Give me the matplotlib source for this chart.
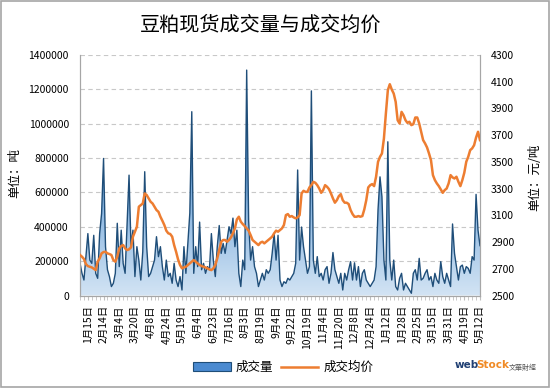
import numpy as np
import matplotlib
matplotlib.use('Agg')
import matplotlib.pyplot as plt
from matplotlib.patches import Polygon, Patch, Rectangle
from matplotlib.lines import Line2D
from matplotlib.colors import LinearSegmentedColormap
from matplotlib.ticker import FuncFormatter

plt.rcParams['font.family'] = ['Noto Sans CJK SC', 'DejaVu Sans']

# 日期标签（每8个交易日一个）
date_labels = ['1月15日', '2月14日', '3月4日', '3月20日', '4月8日', '4月24日',
               '5月19日', '6月4日', '6月23日', '7月16日', '8月3日', '8月19日',
               '9月4日', '9月22日', '10月19日', '11月4日', '11月20日', '12月8日',
               '12月24日', '1月12日', '1月28日', '2月25日', '3月15日', '3月31日',
               '4月19日', '5月12日']

# 成交量（吨）
volume = [
    187000, 129000, 90000, 226000, 360000, 206000, 187000, 350000, 129000, 100000,
    360000, 477000, 797000, 284000, 150000, 110000, 52000, 71000, 129000, 420000,
    168000, 380000, 187000, 129000, 420000, 700000, 284000, 380000, 110000, 284000,
    206000, 90000, 255000, 720000, 284000, 110000, 129000, 168000, 206000, 342000,
    226000, 284000, 168000, 90000, 206000, 110000, 129000, 71000, 187000, 90000,
    52000, 110000, 32000, 284000, 129000, 300000, 480000, 1069000, 129000, 284000,
    168000, 427000, 150000, 187000, 129000, 168000, 150000, 360000, 206000, 110000,
    284000, 407000, 245000, 303000, 245000, 323000, 400000, 360000, 450000, 284000,
    380000, 129000, 52000, 206000, 150000, 1311000, 437000, 206000, 284000, 168000,
    129000, 52000, 90000, 129000, 90000, 150000, 129000, 150000, 245000, 360000,
    206000, 350000, 90000, 52000, 80000, 71000, 100000, 90000, 110000, 129000,
    187000, 730000, 206000, 398000, 284000, 206000, 129000, 168000, 1190000, 206000,
    129000, 226000, 110000, 129000, 90000, 150000, 168000, 71000, 129000, 250000,
    150000, 110000, 71000, 129000, 32000, 129000, 90000, 150000, 197000, 90000,
    190000, 90000, 168000, 52000, 129000, 150000, 90000, 71000, 52000, 71000,
    90000, 168000, 500000, 690000, 574000, 206000, 90000, 894000, 206000, 90000,
    206000, 52000, 32000, 100000, 129000, 32000, 71000, 52000, 32000, 13000,
    129000, 150000, 90000, 216000, 90000, 100000, 129000, 150000, 90000, 110000,
    52000, 129000, 90000, 71000, 197000, 110000, 71000, 129000, 90000, 52000,
    416000, 245000, 168000, 90000, 168000, 177000, 129000, 168000, 158000, 129000,
    226000, 206000, 588000, 380000, 290000,
]

# 成交均价（元/吨）
price = [
    2803, 2790, 2773, 2735, 2720, 2715, 2710, 2700, 2690, 2753,
    2778, 2815, 2825, 2827, 2815, 2810, 2803, 2765, 2753, 2790,
    2852, 2870, 2877, 2852, 2840, 2845, 2860, 2940, 2977, 3014,
    3164, 3176, 3188, 3263, 3251, 3226, 3201, 3188, 3164, 3139,
    3126, 3089, 3059, 3027, 2985, 2965, 2960, 2940, 2877, 2827,
    2770, 2728, 2703, 2710, 2715, 2728, 2740, 2753, 2765, 2753,
    2740, 2728, 2720, 2715, 2710, 2703, 2695, 2690, 2703, 2728,
    2778, 2840, 2902, 2915, 2915, 2902, 2915, 2935, 2965, 3002,
    3069, 3089, 3052, 3034, 3019, 3002, 2985, 2952, 2915, 2902,
    2890, 2877, 2895, 2902, 2890, 2902, 2915, 2927, 2940, 2965,
    2985, 2977, 2990, 3002, 3027, 3101, 3109, 3089, 3094, 3084,
    3077, 3084, 3101, 3263, 3283, 3275, 3275, 3308, 3325, 3350,
    3343, 3325, 3300, 3268, 3288, 3325, 3313, 3295, 3263, 3226,
    3194, 3213, 3243, 3258, 3213, 3194, 3194, 3184, 3139, 3109,
    3089, 3089, 3094, 3089, 3094, 3144, 3213, 3308, 3325, 3333,
    3318, 3388, 3500, 3537, 3562, 3674, 3861, 4035, 4080, 4040,
    4010, 3948, 3811, 3786, 3873, 3848, 3811, 3791, 3799, 3774,
    3781, 3831, 3831, 3786, 3724, 3662, 3637, 3607, 3562, 3512,
    3400, 3363, 3338, 3318, 3293, 3268, 3288, 3300, 3338, 3400,
    3383, 3375, 3388, 3350, 3318, 3363, 3418, 3500, 3537, 3587,
    3600, 3624, 3681, 3724, 3662,
]

vol = np.array(volume, dtype=float)
prc = np.array(price, dtype=float)
x = np.arange(len(vol))

fig = plt.figure(figsize=(5.5, 3.88), dpi=100)
fig.patch.set_facecolor('white')
fig.patches.append(Rectangle((0.002, 0.003), 0.996, 0.994, transform=fig.transFigure,
                             fill=False, edgecolor='#a6a6a6', linewidth=1.2))

ax = fig.add_axes([0.1455, 0.2384, 0.7272, 0.6204])
ax2 = ax.twinx()

# 成交量面积（渐变填充）
verts = np.column_stack([np.r_[x, x[::-1]], np.r_[vol, np.zeros(len(vol))]])
poly = Polygon(verts, closed=True, facecolor='none', edgecolor='none')
ax.add_patch(poly)
cmap = LinearSegmentedColormap.from_list('b', ['#d3e4f4', '#8db8e2', '#3d7fc4'])
grad = np.linspace(0, 1, 256).reshape(-1, 1)
im = ax.imshow(grad, extent=[x[0], x[-1], 0, 1000000], origin='lower',
               aspect='auto', cmap=cmap, zorder=2)
im.set_clip_path(poly)
ax.plot(x, vol, color='#1f4e79', linewidth=1.0, zorder=3)

ax.set_xlim(x[0], x[-1])
ax.set_ylim(0, 1400000)
ax.set_yticks(np.arange(0, 1400001, 200000))
ax.yaxis.set_major_formatter(FuncFormatter(lambda v, p: '%d' % v))
ax.yaxis.grid(True, linestyle=(0, (4, 3)), color='#c8c8c8', linewidth=0.8)
ax.set_axisbelow(True)

# 成交均价
ax2.plot(x, prc, color='#ed7d31', linewidth=1.8, zorder=4)
ax2.set_ylim(2500, 4300)
ax2.set_yticks(np.arange(2500, 4301, 200))

tick_pos = x[4::8]
ax.set_xticks(tick_pos)
ax.set_xticklabels(date_labels, rotation=90, fontsize=7.5)
ax.set_xticks(x[::2], minor=True)
ax.tick_params(axis='x', which='both', length=3, color='#bfbfbf', pad=4)
ax.tick_params(axis='y', length=0, labelsize=7.5, pad=8)
ax2.tick_params(axis='y', length=0, labelsize=7.5, pad=8)

for a in (ax, ax2):
    a.spines['top'].set_visible(False)
    for s in ('left', 'right', 'bottom'):
        a.spines[s].set_color('#a6a6a6')
        a.spines[s].set_linewidth(0.8)

ax.set_ylabel('单位：吨', fontsize=9)
ax.yaxis.set_label_coords(-0.148, 0.51)
ax2.set_ylabel('单位：元/吨', fontsize=9, rotation=90)
ax2.yaxis.set_label_coords(1.12, 0.49)

fig.text(0.473, 0.935, '豆粕现货成交量与成交均价', fontsize=14.5,
         ha='center', va='center')

handles = [Patch(facecolor='#4a8ad0', edgecolor='#1f4e79', linewidth=0.8),
           Line2D([0], [0], color='#ed7d31', linewidth=1.8)]
fig.legend(handles, ['成交量', '成交均价'], loc='center', ncol=2,
           bbox_to_anchor=(0.515, 0.053), frameon=False, fontsize=9,
           handlelength=3, columnspacing=0.6, handletextpad=0.4)

# 水印
fig.text(0.826, 0.058, 'web', fontsize=7.5, fontweight='bold', color='#1f3f73',
         ha='left', va='center', family='DejaVu Sans')
fig.text(0.866, 0.058, 'Stock', fontsize=7.5, fontweight='bold', color='#f08a24',
         ha='left', va='center', family='DejaVu Sans')
fig.text(0.925, 0.052, '文華財經', fontsize=5, color='#555555', ha='left', va='center')

fig.savefig('out.png', dpi=100)
